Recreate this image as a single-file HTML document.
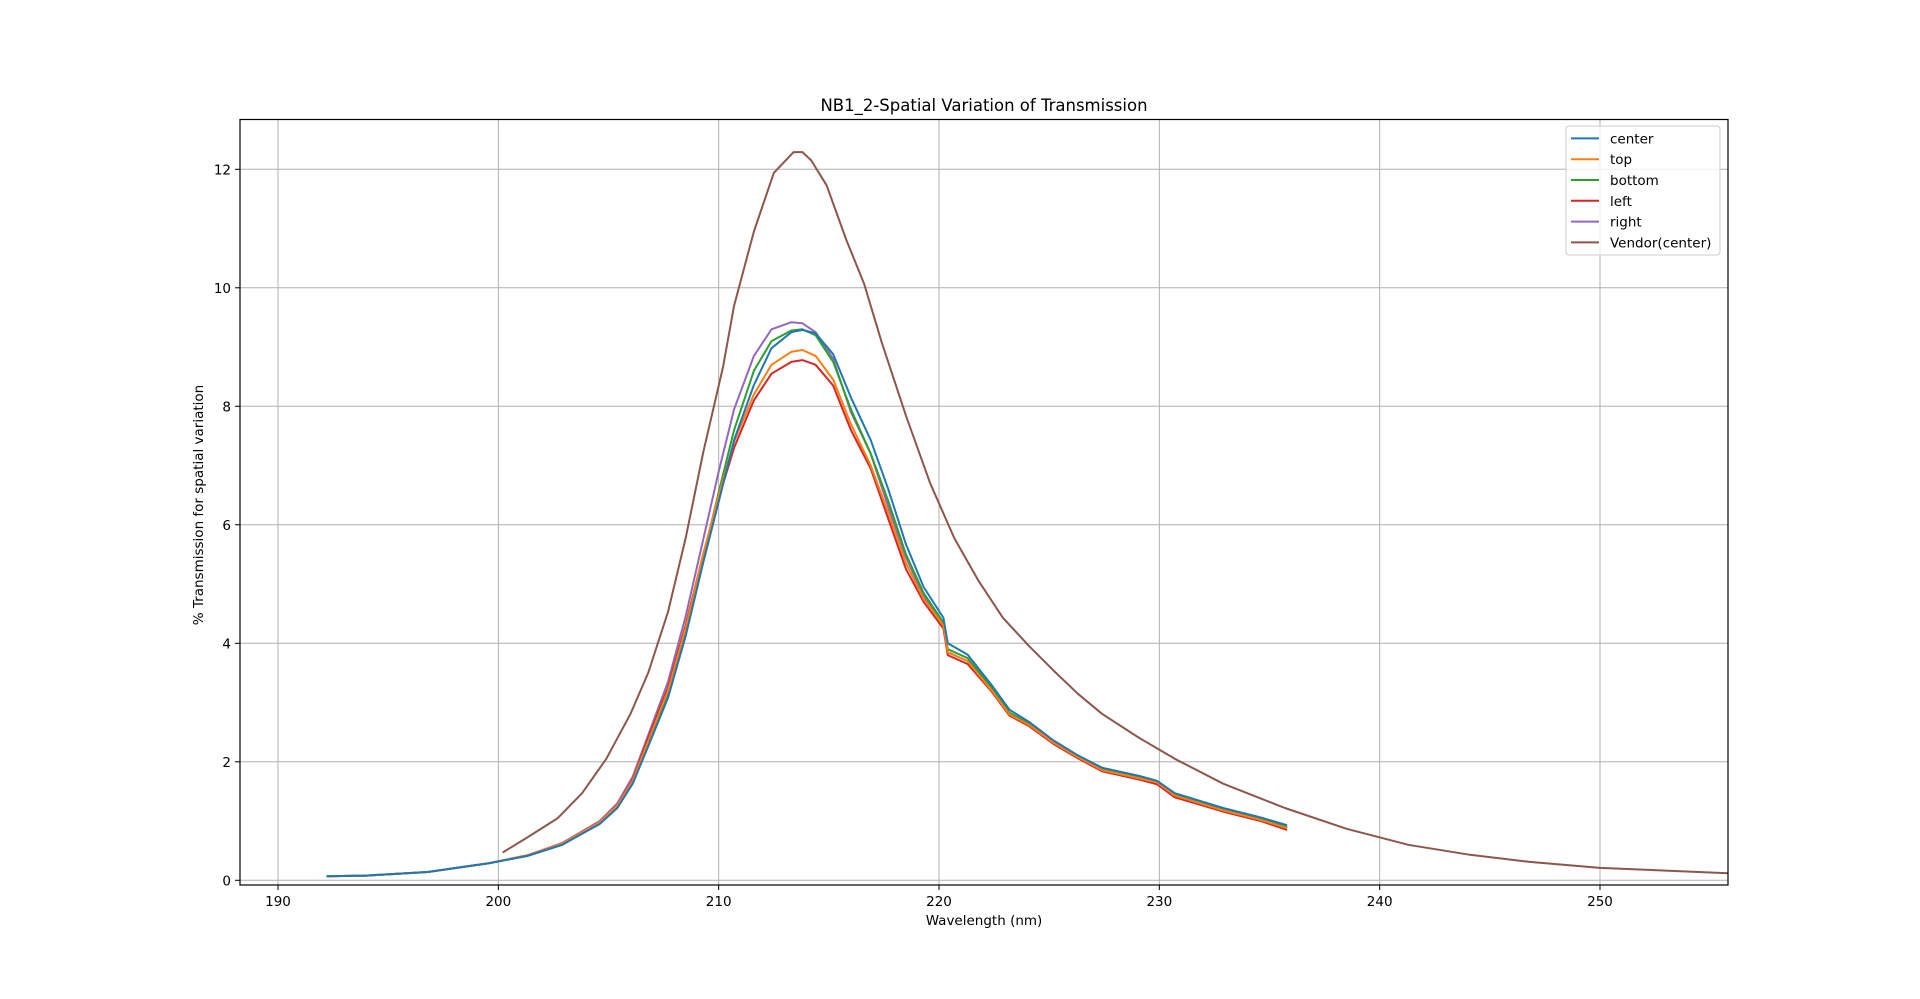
<!DOCTYPE html>
<html><head><meta charset="utf-8"><style>
body{margin:0;background:#fff;}
svg text{font-family:"DejaVu Sans","Liberation Sans",sans-serif;font-size:13.5px;fill:#000;}
svg text.title{font-size:16.5px;}
</style></head><body>
<svg id="chart" width="1920" height="994" xmlns="http://www.w3.org/2000/svg">
<rect width="1920" height="994" fill="#fff"/>
<g id="grid"></g><g id="series"></g><g id="axes"></g><g id="legend"></g>
</svg>
<script>
const xTicks=[190,200,210,220,230,240,250];
const yTicks=[0,2,4,6,8,10,12];
const measWl=[192.2,194,196.8,199.6,201.3,202.9,204.6,205.4,206.1,206.8,207.7,208.5,209.3,210,210.7,211.6,212.4,213.3,213.8,214.4,215.2,216,216.9,217.7,218.5,219.3,220.2,220.4,221.3,222.4,223.2,224.1,225.2,226.3,227.4,229.1,229.9,230.7,232.9,234.6,235.8];
const centerVals=[0.07,0.08,0.14,0.29,0.41,0.6,0.95,1.22,1.63,2.26,3.08,4.12,5.36,6.39,7.43,8.36,8.98,9.25,9.29,9.23,8.88,8.15,7.43,6.6,5.67,4.95,4.43,4.0,3.81,3.29,2.88,2.67,2.36,2.11,1.9,1.76,1.68,1.47,1.22,1.06,0.93];
const topVals=[0.07,0.08,0.14,0.29,0.42,0.62,0.98,1.26,1.68,2.35,3.2,4.25,5.5,6.5,7.4,8.2,8.7,8.92,8.95,8.85,8.45,7.7,7.0,6.2,5.35,4.75,4.3,3.85,3.7,3.2,2.8,2.62,2.32,2.08,1.86,1.72,1.65,1.43,1.18,1.02,0.88];
const bottomVals=[0.07,0.08,0.14,0.29,0.41,0.6,0.96,1.24,1.64,2.3,3.15,4.2,5.45,6.55,7.6,8.6,9.1,9.28,9.3,9.2,8.75,7.95,7.2,6.4,5.5,4.85,4.35,3.9,3.75,3.25,2.83,2.64,2.33,2.08,1.88,1.73,1.66,1.45,1.2,1.04,0.9];
const leftVals=[0.07,0.08,0.14,0.29,0.42,0.62,0.98,1.26,1.7,2.4,3.25,4.3,5.5,6.45,7.3,8.1,8.55,8.75,8.78,8.7,8.35,7.6,6.95,6.1,5.25,4.7,4.25,3.8,3.65,3.18,2.78,2.6,2.3,2.06,1.84,1.7,1.62,1.4,1.16,1.0,0.85];
const rightVals=[0.07,0.08,0.14,0.29,0.42,0.63,1.0,1.3,1.75,2.45,3.35,4.45,5.75,6.9,7.95,8.85,9.3,9.42,9.4,9.25,8.8,7.9,7.2,6.3,5.45,4.8,4.3,3.85,3.7,3.2,2.8,2.62,2.32,2.08,1.87,1.72,1.65,1.44,1.19,1.03,0.89];
const vendorWl=[200.2,201.3,202.7,203.8,204.9,206,206.8,207.7,208.5,209.3,210.2,210.7,211.6,212.5,213.4,213.8,214.2,214.9,215.8,216.6,217.4,218.5,219.6,220.7,221.8,222.9,224.1,225.2,226.3,227.4,229.1,230.7,232.9,235.7,238.5,241.3,244.1,246.8,250,255.8];
const vendorVals=[0.47,0.72,1.05,1.47,2.05,2.81,3.5,4.53,5.77,7.22,8.67,9.7,10.95,11.94,12.29,12.29,12.15,11.73,10.8,10.07,9.08,7.84,6.7,5.77,5.05,4.43,3.95,3.54,3.15,2.81,2.4,2.05,1.63,1.22,0.87,0.6,0.43,0.31,0.21,0.12];
const seriesNames=["center","top","bottom","left","right","Vendor(center)"];
const colors=["#1f77b4","#ff7f0e","#2ca02c","#d62728","#9467bd","#8c564b"];

const L=240,R=1728,T=119.5,B=885;
const xS=v=>278+(v-190)*(1600-278)/60;
const yS=v=>880.3-v*(880.3-169.3)/12;
const NS="http://www.w3.org/2000/svg";
function mk(p,t,a){const e=document.createElementNS(NS,t);for(const k in a)e.setAttribute(k,a[k]);p.appendChild(e);return e;}
const grid=document.getElementById('grid'),axes=document.getElementById('axes'),ser=document.getElementById('series'),leg=document.getElementById('legend');
xTicks.forEach(t=>{const x=xS(t);
 const g=mk(grid,'line',{x1:x,x2:x,y1:T,y2:B,stroke:'#b0b0b0','stroke-width':1});
 
 
 mk(axes,'line',{x1:x,x2:x,y1:B,y2:B+5,stroke:'#000'});
 const tx=mk(axes,'text',{x:x,y:B+21,'text-anchor':'middle'});tx.textContent=t;
 
 
});
yTicks.forEach(t=>{const y=yS(t);
 const g=mk(grid,'line',{x1:L,x2:R,y1:y,y2:y,stroke:'#b0b0b0','stroke-width':1});
 
 
 mk(axes,'line',{x1:L-5,x2:L,y1:y,y2:y,stroke:'#000'});
 const tx=mk(axes,'text',{x:L-9,y:y+5,'text-anchor':'end'});tx.textContent=t;
 
 
});
const fr=mk(axes,'rect',{x:L,y:T,width:R-L,height:B-T,fill:'none',stroke:'#000','stroke-width':1.2});


const tt=mk(axes,'text',{x:(L+R)/2,y:111,'text-anchor':'middle','class':'title'});tt.textContent='NB1_2-Spatial Variation of Transmission';


const xl=mk(axes,'text',{x:(L+R)/2,y:925,'text-anchor':'middle'});xl.textContent='Wavelength (nm)';


const yl=mk(axes,'text',{x:0,y:0,'text-anchor':'middle',transform:'translate(203,505) rotate(-90)'});yl.textContent='% Transmission for spatial variation';


const allData=[[measWl,centerVals],[measWl,topVals],[measWl,bottomVals],[measWl,leftVals],[measWl,rightVals],[vendorWl,vendorVals]];
const drawOrder=[5,4,3,2,1,0];
drawOrder.forEach(i=>{const [xs,ys]=allData[i];
 const d=xs.map((x,j)=>(j?'L':'M')+xS(x).toFixed(1)+','+yS(ys[j]).toFixed(1)).join(' ');
 const p=mk(ser,'path',{d:d,fill:'none',stroke:colors[i],'stroke-width':2,'stroke-linejoin':'round'});
 
 
});
const lb=mk(leg,'rect',{x:1566,y:126,width:154,height:129,rx:3,fill:'#fff','fill-opacity':0.8,stroke:'#ccc'});


seriesNames.forEach((n,i)=>{const y=138.4+i*20.8;
 const g=mk(leg,'g',{});
 
 
 mk(g,'line',{x1:1571,x2:1599,y1:y,y2:y,stroke:colors[i],'stroke-width':2});
 const t=mk(g,'text',{x:1610,y:y+5});t.textContent=n;
});
</script>
</body></html>
